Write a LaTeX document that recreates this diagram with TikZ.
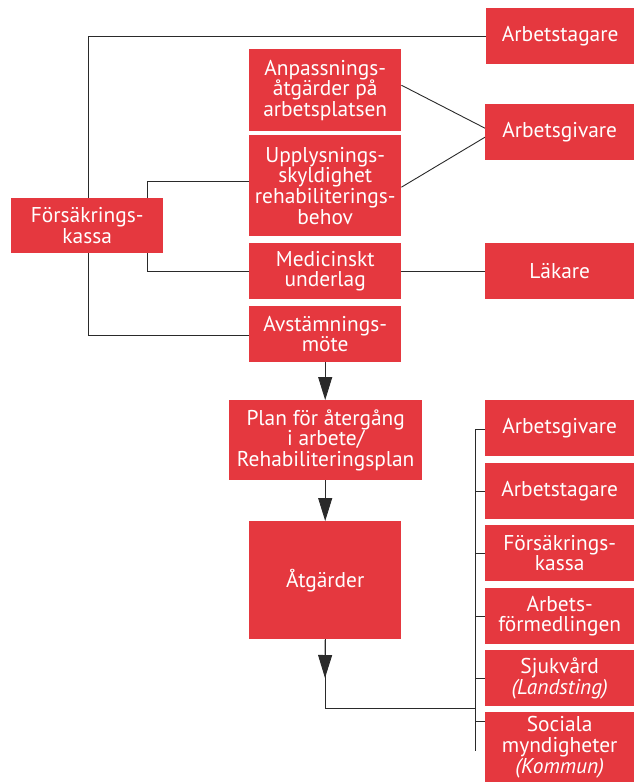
\documentclass[tikz,border=0pt]{standalone}
\usepackage{fontspec}
\setmainfont{PT Sans}
\usetikzlibrary{arrows.meta,backgrounds}
\definecolor{boxred}{HTML}{E5383F}
\definecolor{linegray}{HTML}{2A2A2A}
\tikzset{
  box/.style={fill=boxred, text=white, inner sep=0pt, anchor=north west, align=center,
    font=\fontsize{21.4}{20.6}\selectfont},
  conn/.style={draw=linegray, line width=0.9pt},
  arr/.style={conn, -{Triangle[length=23pt,width=14pt]}},
}
\begin{document}
\begin{tikzpicture}[x=1pt,y=-1pt]
\useasboundingbox (0,0) rectangle (634,782);
% top right
\node[box, minimum width=148pt, minimum height=56pt] (at1) at (486,8) {Arbetstagare};
\node[box, minimum width=149pt, minimum height=56pt] (ag1) at (485,104) {Arbetsgivare};
\node[box, minimum width=149pt, minimum height=56pt] (lak) at (485,243) {Läkare};
% left
\node[box, minimum width=152pt, minimum height=55pt] (fk1) at (11,198) {Försäkrings-\\kassa};
% middle column
\node[box, minimum width=152pt, minimum height=82pt] (anp) at (249,49) {Anpassnings-\\åtgärder på\\arbetsplatsen};
\node[box, minimum width=152pt, minimum height=101pt] (upp) at (249,135) {Upplysnings-\\skyldighet\\rehabiliterings-\\behov};
\node[box, minimum width=152pt, minimum height=56pt] (med) at (249,243) {Medicinskt\\underlag};
\node[box, minimum width=152pt, minimum height=56pt] (avs) at (249,306) {Avstämnings-\\möte};
\node[box, minimum width=193pt, minimum height=80pt] (plan) at (229,400) {Plan för återgång\\i arbete/\\Rehabiliteringsplan};
\node[box, minimum width=152pt, minimum height=118pt] (atg) at (249,521) {Åtgärder};
% right column
\node[box, minimum width=149pt, minimum height=56pt] (ag2) at (485,400) {Arbetsgivare};
\node[box, minimum width=149pt, minimum height=56pt] (at2) at (485,463) {Arbetstagare};
\node[box, minimum width=149pt, minimum height=56pt] (fk2) at (485,525) {Försäkrings-\\kassa};
\node[box, minimum width=149pt, minimum height=56pt] (af) at (485,588) {Arbets-\\förmedlingen};
\node[box, minimum width=149pt, minimum height=56pt] (sj) at (485,650) {Sjukvård\\\textit{(Landsting)}};
\node[box, minimum width=149pt, minimum height=70pt] (soc) at (485,712) {Sociala\\myndigheter\\\textit{(Kommun)}};
% coordinates
\coordinate (k1) at (88,335);
\coordinate (k2) at (147,271);
\coordinate (k3) at (475,708);
\coordinate (k4) at (325,678);
\coordinate (t1) at (475,429);
\coordinate (t2) at (475,751);
\begin{scope}[on background layer]
\draw[conn] (at1.west) -| (k1) -- (k1 -| avs.west);
\draw[conn] ([yshift=4.5pt]upp.west) -| (k2) -- (k2 -| med.west);
\draw[conn] ([yshift=5pt]anp.east) -- ([yshift=4pt]ag1.west);
\draw[conn] ([yshift=-1.5pt]upp.east) -- ([yshift=-5pt]ag1.west);
\draw[conn] (med.east) -- (med.east -| lak.west);
\draw[conn] (atg.south) |- (k3);
\draw[conn] (t1) -- (t2);
\draw[conn] (t1) -- (t1 -| ag2.west);
\draw[conn] (at2.west) -- (at2.west -| t1);
\draw[conn] (fk2.west) -- (fk2.west -| t1);
\draw[conn] (af.west) -- (af.west -| t1);
\draw[conn] (sj.west) -- (sj.west -| t1);
\draw[conn] ([yshift=-9pt]soc.north west) -- ([yshift=-9pt]soc.north west -| t1);
\end{scope}
\draw[arr] (avs.south) -- (avs.south |- plan.north);
\draw[arr] (plan.south -| atg.north) -- (atg.north);
\draw[arr] (atg.south) -- (k4);
\end{tikzpicture}
\end{document}
